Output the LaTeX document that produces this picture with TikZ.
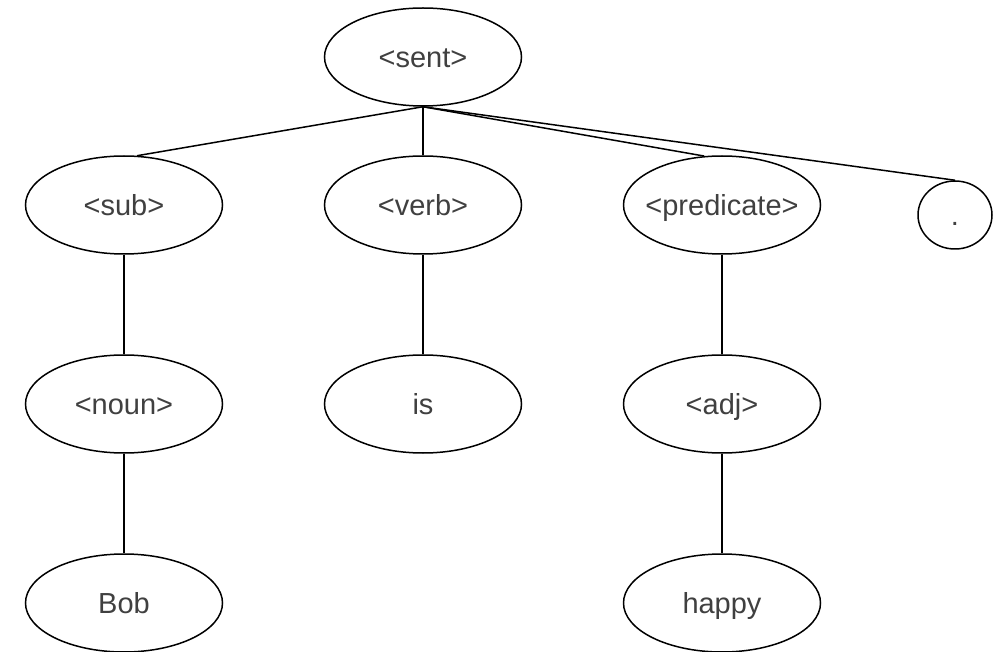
\documentclass[tikz,border=0pt]{standalone}
\usepackage{fontspec}
\setmainfont{Liberation Sans}
\usetikzlibrary{shapes.geometric}

\begin{document}
\begin{tikzpicture}[x=1pt, y=-1pt,
    word/.style={draw, ellipse, line width=1.5pt, minimum width=197pt,
                 minimum height=98pt, inner sep=0pt, text=black!75,
                 font=\fontsize{29}{34}\selectfont, text height=21pt, text depth=0pt}]

\useasboundingbox (0, 0) rectangle (1007, 652);

% the tree
\node[word] (sent) at (423, 57) {<sent>};
\node[word] (sub) at (124, 205) {<sub>};
\node[word] (verb) at (423, 205) {<verb>};
\node[word] (pred) at (722, 205) {\makebox[0pt]{<predicate>}};
\node[word, minimum width=74pt, minimum height=68pt] (stop) at (955, 215) {.};
\node[word] (noun) at (124, 404) {<noun>};
\node[word] (is) at (423, 404) {is};
\node[word] (adj) at (722, 404) {<adj>};
\node[word] (bob) at (124, 603) {Bob};
\node[word] (happy) at (722, 603) {happy};

\begin{scope}[line width=1.5pt]
    \draw (sent.south) -- (sub.75);
    \draw (sent.south) -- (verb.north);
    \draw (sent.south) -- (pred.110);
    \draw (sent.south) -- (stop.north);
    \draw (sub.south) -- (noun.north);
    \draw (verb.south) -- (is.north);
    \draw (pred.south) -- (adj.north);
    \draw (noun.south) -- (bob.north);
    \draw (adj.south) -- (happy.north);
\end{scope}
\end{tikzpicture}
\end{document}
